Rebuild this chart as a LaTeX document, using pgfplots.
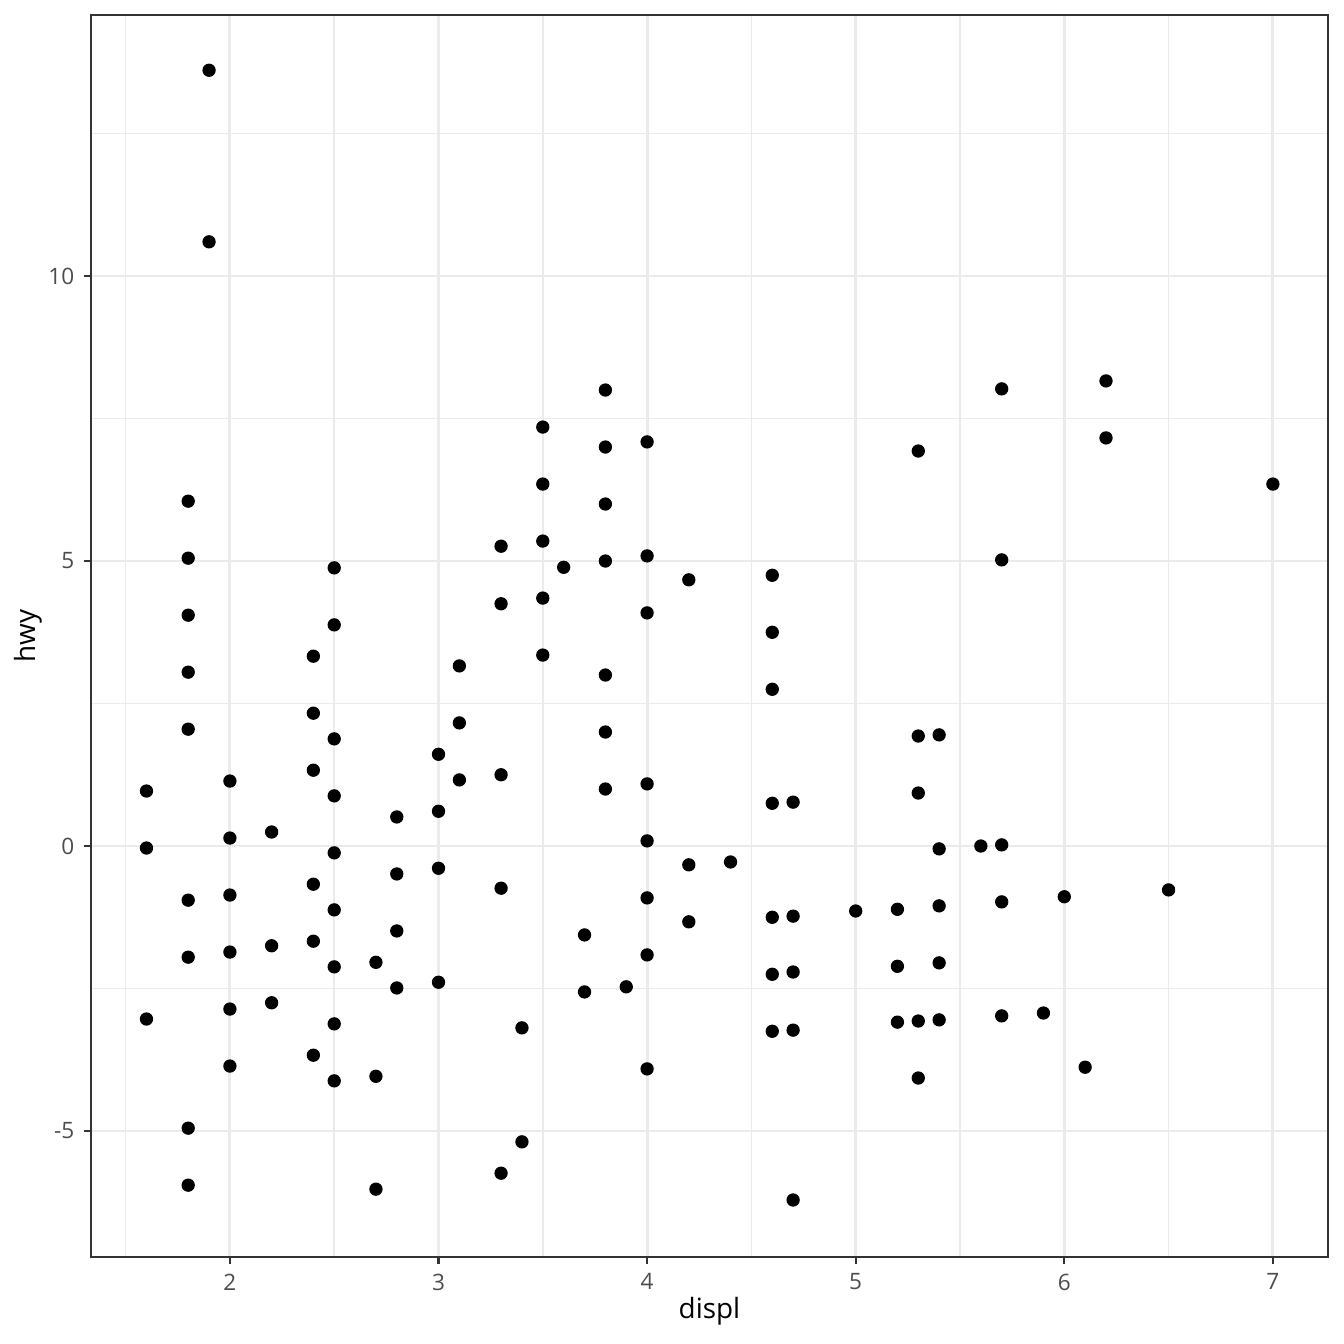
\documentclass[border=0pt]{standalone}
\usepackage{pgfplots}
\pgfplotsset{compat=1.18}
\usepackage{fontspec}
\setmainfont{Open Sans}
\definecolor{grid}{HTML}{EBEBEB}
\definecolor{g20}{HTML}{333333}
\definecolor{g30}{HTML}{4D4D4D}
\begin{document}
\begin{tikzpicture}[x=1pt,y=1pt]
\path[use as bounding box, fill=white] (0,0) rectangle (505.89,505.89);
\begin{axis}[
  at={(34.25pt,32.75pt)}, anchor=south west,
  scale only axis, width=465.6pt, height=467.5pt,
  xmin=1.334, xmax=7.264, ymin=-7.21, ymax=14.58,
  xtick={2,3,4,5,6,7}, ytick={-5,0,5,10},
  minor xtick={1.5,2.5,3.5,4.5,5.5,6.5},
  minor ytick={-2.5,2.5,7.5,12.5},
  grid=both,
  major grid style={color=grid, line width=1.1pt},
  minor grid style={color=grid, line width=0.55pt},
  axis line style={color=g20, line width=0.55pt},
  tick style={color=g20, line width=0.8pt},
  minor tick length=0pt,
  major tick length=2.75pt,
  tick align=outside,
  xtick pos=bottom, ytick pos=left,
  /pgf/number format/assume math mode=true,
  ticklabel style={font=\fontsize{8.5}{10}\selectfont, color=g30},
  xlabel={displ}, ylabel={hwy},
  label style={font=\fontsize{10.5}{12}\selectfont, color=black},
  xlabel style={at={(axis description cs:0.5,0)}, anchor=center, yshift=-20.3pt},
  ylabel style={at={(axis description cs:0,0.5)}, anchor=center, yshift=23.7pt},
  clip=false,
]
\addplot[only marks, mark=*, mark size=2.3pt, color=black] coordinates {
(1.6,0.965) (1.6,-0.035) (1.6,-3.035)
(1.8,6.05) (1.8,5.05) (1.8,4.05) (1.8,3.05) (1.8,2.05) (1.8,-0.95) (1.8,-1.95) (1.8,-4.95) (1.8,-5.95)
(1.9,13.61) (1.9,10.6)
(2.0,1.14) (2.0,0.14) (2.0,-0.86) (2.0,-1.86) (2.0,-2.86) (2.0,-3.86)
(2.2,0.246) (2.2,-1.75) (2.2,-2.75)
(2.4,3.33) (2.4,2.33) (2.4,1.33) (2.4,-0.67) (2.4,-1.67) (2.4,-3.67)
(2.5,4.88) (2.5,3.88) (2.5,1.88) (2.5,0.88) (2.5,-0.12) (2.5,-1.12) (2.5,-2.12) (2.5,-3.12) (2.5,-4.12)
(2.7,-2.04) (2.7,-4.04) (2.7,-6.02)
(2.8,0.51) (2.8,-0.49) (2.8,-1.49) (2.8,-2.49)
(3.0,1.61) (3.0,0.61) (3.0,-0.39) (3.0,-2.39)
(3.1,3.16) (3.1,2.16) (3.1,1.16)
(3.3,5.26) (3.3,4.25) (3.3,1.25) (3.3,-0.74) (3.3,-5.74)
(3.4,-3.19) (3.4,-5.19)
(3.5,7.35) (3.5,6.35) (3.5,5.35) (3.5,4.35) (3.5,3.35)
(3.6,4.89)
(3.7,-1.56) (3.7,-2.56)
(3.8,8.0) (3.8,7.0) (3.8,6.0) (3.8,5.0) (3.8,3.0) (3.8,2.0) (3.8,1.0)
(3.9,-2.47)
(4.0,7.09) (4.0,5.09) (4.0,4.09) (4.0,1.09) (4.0,0.09) (4.0,-0.91) (4.0,-1.91) (4.0,-3.91)
(4.2,4.67) (4.2,-0.33) (4.2,-1.33)
(4.4,-0.28)
(4.6,4.75) (4.6,3.75) (4.6,2.75) (4.6,0.75) (4.6,-1.25) (4.6,-2.25) (4.6,-3.25)
(4.7,0.77) (4.7,-1.23) (4.7,-2.21) (4.7,-3.23) (4.7,-6.21)
(5.0,-1.14)
(5.2,-1.11) (5.2,-2.11) (5.2,-3.09)
(5.3,6.93) (5.3,1.93) (5.3,0.93) (5.3,-3.07) (5.3,-4.07)
(5.4,1.95) (5.4,-0.05) (5.4,-1.05) (5.4,-2.05) (5.4,-3.05)
(5.6,0.0)
(5.7,8.02) (5.7,5.02) (5.7,0.02) (5.7,-0.98) (5.7,-2.98)
(5.9,-2.93)
(6.0,-0.89)
(6.1,-3.88)
(6.2,8.16) (6.2,7.16)
(6.5,-0.77)
(7.0,6.35)
};
\end{axis}
\end{tikzpicture}
\end{document}
